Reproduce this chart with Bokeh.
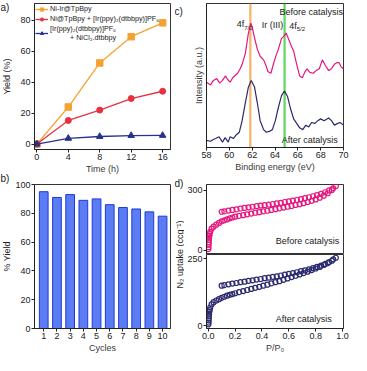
from bokeh.plotting import figure
from bokeh.models import (Label, Legend, LegendItem, FixedTicker, BoxAnnotation,
                          Range1d, NumeralTickFormatter)
from bokeh.layouts import row, column
from bokeh.embed import file_html
from bokeh.resources import INLINE
from bokeh.core.validation import silence
from bokeh.core.validation.warnings import MISSING_RENDERERS

silence(MISSING_RENDERERS, True)

FONT = "Liberation Sans"

# ---------------- data ----------------
# (a) yield vs time
time_h = [0, 4, 8, 12, 16]
yield_niir = [0, 24, 52.5, 69.5, 78.5]
yield_mix = [0, 15.3, 22, 29.5, 34.2]
yield_homo = [0, 3.7, 4.9, 5.5, 5.6]
legend_a = ["Ni-Ir@TpBpy",
            "Ni@TpBpy + [Ir(ppy)\u2082(dtbbpy)]PF\u2086",
            "[Ir(ppy)\u2082(dtbbpy)]PF\u2086\n          + NiCl\u2082.dtbbpy"]
ticks_a_x = [0, 4, 8, 12, 16]
ticks_a_y = [0, 20, 40, 60, 80]

# (b) recycling
cycles = [1, 2, 3, 4, 5, 6, 7, 8, 9, 10]
cycle_yield = [95, 91, 93, 89, 90, 86, 84, 83, 81, 78]
ticks_b_y = [0, 20, 40, 60, 80, 100]

# (c) XPS Ir 4f
ev_before = [58.0, 58.35, 58.6, 58.9, 59.15, 59.4, 59.67, 59.85, 60.07, 60.3, 60.46,
             60.73, 60.95, 61.12, 61.4, 61.66, 61.87, 62.0, 62.2, 62.45, 62.7, 63.0,
             63.2, 63.38, 63.64, 63.9, 64.1, 64.3, 64.57, 64.75, 64.97, 65.23, 65.45,
             65.63, 65.9, 66.16, 66.4, 66.6, 66.8, 67.05, 67.35, 67.6, 67.88, 68.15,
             68.4, 68.7, 68.95, 69.2, 69.45, 69.6, 69.8, 70.0]
int_before = [73, 70, 75, 77, 72, 75, 80, 76, 73, 78, 80,
              83, 88, 93, 105, 127, 139, 135, 123, 110, 102, 98,
              92, 85, 83, 95, 103, 110, 122, 124, 128, 120, 113,
              108, 93, 80, 78, 84, 88, 84, 83, 86, 88, 98,
              92, 86, 88, 93, 95, 95, 90, 88]
ev_after = [58.0, 58.35, 58.6, 58.8, 59.1, 59.4, 59.63, 59.9, 60.07, 60.35, 60.6,
            60.87, 61.12, 61.4, 61.66, 61.92, 62.2, 62.45, 62.7, 63.0, 63.25, 63.5,
            63.77, 64.03, 64.3, 64.57, 64.83, 65.1, 65.37, 65.63, 65.9, 66.16, 66.43,
            66.7, 66.96, 67.2, 67.5, 67.75, 68.0, 68.3, 68.7, 68.95, 69.2, 69.5, 69.7, 70.0]
int_after = [8, 7, 9, 10, 12, 6, 11, 6, 12, 10, 14,
             17, 30, 50, 67, 75, 68, 50, 30, 20, 17, 18,
             20, 30, 45, 58, 63, 57, 43, 32, 27, 22, 20,
             25, 23, 28, 27, 30, 32, 30, 33, 30, 25, 27, 28, 25]
peak_pos = [61.84, 64.84]
ticks_c_x = [58, 60, 62, 64, 66, 68, 70]

# (d) N2 isotherms
p_ads_before = [0.001, 0.002, 0.003, 0.004, 0.005, 0.006, 0.008, 0.010, 0.015, 0.025,
                0.04, 0.06, 0.08, 0.10, 0.12, 0.14, 0.16, 0.18, 0.20, 0.23, 0.26, 0.29,
                0.32, 0.35, 0.38, 0.41, 0.44, 0.47, 0.50, 0.53, 0.56, 0.59, 0.62, 0.65,
                0.68, 0.71, 0.74, 0.77, 0.80, 0.83, 0.86, 0.89, 0.92, 0.95]
v_ads_before = [5, 15, 28, 40, 52, 62, 72, 80, 92, 108,
                118, 128, 137, 145, 150, 155, 160, 164, 168, 172, 176, 180,
                184, 188, 191, 195, 198, 202, 206, 210, 214, 218, 222, 227,
                231, 236, 242, 248, 255, 264, 274, 286, 302, 322]
p_des_before = [0.93, 0.90, 0.87, 0.84, 0.81, 0.78, 0.75, 0.72, 0.69, 0.66, 0.63, 0.60,
                0.57, 0.54, 0.51, 0.48, 0.45, 0.42, 0.39, 0.36, 0.33, 0.30, 0.27, 0.24,
                0.21, 0.18, 0.15, 0.12, 0.10]
v_des_before = [311, 300, 291, 283, 277, 271, 266, 261, 256, 252, 249, 245,
                242, 238, 235, 232, 229, 226, 224, 221, 218, 215, 212, 209,
                205, 202, 199, 195, 193]
p_ads_after = p_ads_before
v_ads_after = [5, 12, 20, 28, 36, 44, 52, 58, 68, 80,
               88, 94, 99, 104, 108, 112, 115, 118, 121, 125, 129, 133,
               137, 141, 145, 149, 153, 158, 162, 166, 171, 176, 181, 186,
               191, 196, 201, 207, 213, 219, 226, 233, 242, 253]
p_des_after = p_des_before
v_des_after = [247, 237, 230, 224, 219, 214, 210, 206, 203, 199, 196, 193,
               190, 187, 184, 182, 179, 177, 174, 172, 169, 167, 164, 162,
               159, 157, 154, 151, 149]
ticks_d_x = [0.0, 0.2, 0.4, 0.6, 0.8, 1.0]
ticks_d1_y = [0, 300]
ticks_d2_y = [0, 250]

# ---------------- style ----------------
ORANGE = "#F5A233"
RED = "#E8313F"
BLUE_A = "#283190"
BAR_FILL = "#5B7CF3"
BAR_LINE = "#1D3BD4"
MAGENTA = "#E5177F"
NAVY = "#2B2A6E"
INK = "#222222"
LABEL_INK = "#3a3a3a"
H = 355  # total layout height


def make_fig(width, height, xr, yr, bl, br, bt, bb, **kw):
    p = figure(width=width, height=height, x_range=xr, y_range=yr,
               output_backend="svg", toolbar_location=None, **kw)
    p.min_border_left = bl
    p.min_border_right = br
    p.min_border_top = bt
    p.min_border_bottom = bb
    p.grid.visible = False
    p.outline_line_color = "#333333"
    p.outline_line_width = 1
    p.background_fill_color = "white"
    p.border_fill_color = "white"
    for ax in list(p.xaxis) + list(p.yaxis):
        ax.major_label_text_font = FONT
        ax.major_label_text_font_size = "9px"
        ax.axis_label_text_font = FONT
        ax.axis_label_text_font_size = "9px"
        ax.axis_label_text_font_style = "normal"
        ax.major_tick_in = 0
        ax.major_tick_out = 3
        ax.minor_tick_line_color = None
        ax.major_label_standoff = 1
        ax.axis_label_standoff = 1
        ax.axis_line_color = INK
        ax.major_tick_line_color = INK
        ax.major_label_text_color = INK
        ax.axis_label_text_color = LABEL_INK
    return p


def strip(width):
    s = figure(width=width, height=H, x_axis_location=None, y_axis_location=None,
               output_backend="svg", toolbar_location=None, min_border=0,
               outline_line_color=None)
    s.grid.visible = False
    return s


def screen_text(p, text, x, y, angle=0, align="left", baseline="top", size="9px"):
    p.add_layout(Label(x=x, y=y, x_units="screen", y_units="screen", text=text,
                       angle=angle, angle_units="deg", text_font=FONT,
                       text_font_size=size, text_color=INK, text_align=align,
                       text_baseline=baseline))


def note(p, text, x, y, align="left", size="9px", baseline="middle"):
    p.add_layout(Label(x=x, y=y, text=text, text_font=FONT, text_font_size=size,
                       text_color=INK, text_align=align, text_baseline=baseline))


# ---------------- (a) ----------------
pa = make_fig(162, 176, Range1d(-0.3, 17), Range1d(-3.5, 91), 19, 4, 3, 27)
pa.xaxis.ticker = FixedTicker(ticks=ticks_a_x)
pa.yaxis.ticker = FixedTicker(ticks=ticks_a_y)
pa.xaxis.axis_label = "Time (h)"
l1 = pa.line(time_h, yield_niir, color=ORANGE, line_width=1.3)
m1 = pa.scatter(time_h, yield_niir, marker="square", size=6.5, color=ORANGE)
l2 = pa.line(time_h, yield_mix, color=RED, line_width=1.3)
m2 = pa.scatter(time_h, yield_mix, marker="circle", size=6, color=RED)
l3 = pa.line(time_h, yield_homo, color=BLUE_A, line_width=1.3)
m3 = pa.scatter(time_h, yield_homo, marker="triangle", size=6.5, color=BLUE_A)
leg = Legend(items=[LegendItem(label=legend_a[0], renderers=[l1, m1]),
                    LegendItem(label=legend_a[1], renderers=[l2, m2]),
                    LegendItem(label=legend_a[2], renderers=[l3, m3])],
             location="top_left")
leg.label_text_font = FONT
leg.label_text_font_size = "7.2px"
leg.label_text_color = INK
leg.label_height = 8
leg.glyph_height = 8
leg.glyph_width = 13
leg.label_standoff = 2
leg.spacing = 1
leg.padding = 1
leg.margin = 1
leg.border_line_color = None
leg.background_fill_alpha = 0
pa.add_layout(leg)

# ---------------- (b) ----------------
pb = make_fig(162, 179, Range1d(0.3, 10.6), Range1d(0, 100), 19, 4, 8, 26)
pb.vbar(x=cycles, top=cycle_yield, width=0.66, fill_color=BAR_FILL,
        line_color=BAR_LINE, line_width=1)
pb.xaxis.ticker = FixedTicker(ticks=cycles)
pb.yaxis.ticker = FixedTicker(ticks=ticks_b_y)
pb.xaxis.axis_label = "Cycles"

# left strip: panel letters and y titles of (a) and (b)
sl = strip(12)
screen_text(sl, "a)", 0, H - 1, size="10px")
screen_text(sl, "Yield (%)", 6, H - 3 - 73, angle=90, align="center", baseline="middle")
screen_text(sl, "b)", 0, H - 172, size="10px")
screen_text(sl, "% Yield", 6, H - 176 - 8 - 72, angle=90, align="center", baseline="middle")

# ---------------- (c) ----------------
pc = make_fig(167, 174, Range1d(58, 70), Range1d(0, 161), 20, 8, 3, 26)
pc.xaxis.ticker = FixedTicker(ticks=ticks_c_x)
pc.yaxis.ticker = FixedTicker(ticks=[])
pc.yaxis.major_tick_out = 0
pc.yaxis.axis_label_standoff = 3
pc.xaxis.axis_label = "Binding energy (eV)"
pc.yaxis.axis_label = "Intensity (a.u.)"
for pk, col in zip(peak_pos, ["#F3AE5E", "#56D156"]):
    pc.add_layout(BoxAnnotation(left=pk - 0.1, right=pk + 0.1, fill_color=col,
                                fill_alpha=0.9, line_color=None, level="underlay"))
pc.line(ev_before, int_before, color=MAGENTA, line_width=1.2)
pc.line(ev_after, int_after, color=NAVY, line_width=1.2)
note(pc, "4f", 60.65, 138)
note(pc, "7/2", 61.3, 134, size="6px")
note(pc, "Ir (III)", 62.85, 137)
note(pc, "4f", 65.25, 136)
note(pc, "5/2", 65.9, 132, size="6px")
note(pc, "Before catalysis", 69.95, 151, align="right")
note(pc, "After catalysis", 69.5, 8, align="right")

# ---------------- (d) ----------------
xr_d = Range1d(-0.013, 1.007)
pd1 = make_fig(167, 80, xr_d, Range1d(-22, 330), 20, 8, 10, 0, x_axis_location=None)
pd1.yaxis.ticker = FixedTicker(ticks=ticks_d1_y)
pd1.scatter(p_ads_before, v_ads_before, marker="circle", size=5, fill_color=None,
            line_color=MAGENTA, line_width=1.2)
pd1.scatter(p_des_before, v_des_before, marker="circle", size=5, fill_color=None,
            line_color=MAGENTA, line_width=1.2)
note(pd1, "Before catalysis", 0.975, 45, align="right")

pd2 = make_fig(167, 101, xr_d, Range1d(-10, 265), 20, 8, 0, 27)
pd2.yaxis.ticker = FixedTicker(ticks=ticks_d2_y)
pd2.xaxis.ticker = FixedTicker(ticks=ticks_d_x)
pd2.xaxis.formatter = NumeralTickFormatter(format="0.0")
pd2.xaxis.axis_label = "P/P\u2080"
pd2.scatter(p_ads_after, v_ads_after, marker="circle", size=5, fill_color=None,
            line_color=NAVY, line_width=1.2)
pd2.scatter(p_des_after, v_des_after, marker="circle", size=5, fill_color=None,
            line_color=NAVY, line_width=1.2)
note(pd2, "After catalysis", 0.92, 25, align="right")

# right strip: panel letters and shared y title of (d)
sr = strip(10)
screen_text(sr, "c)", 0, H - 5, size="10px")
screen_text(sr, "d)", 0, H - 177, size="10px")
screen_text(sr, "N\u2082 uptake (ccg\u207b\u00b9)", 5, 101, angle=90, align="center",
            baseline="middle")

layout = row(sl, column(pa, pb), sr, column(pc, pd1, pd2))

open("out.html", "w").write(file_html(layout, INLINE))
